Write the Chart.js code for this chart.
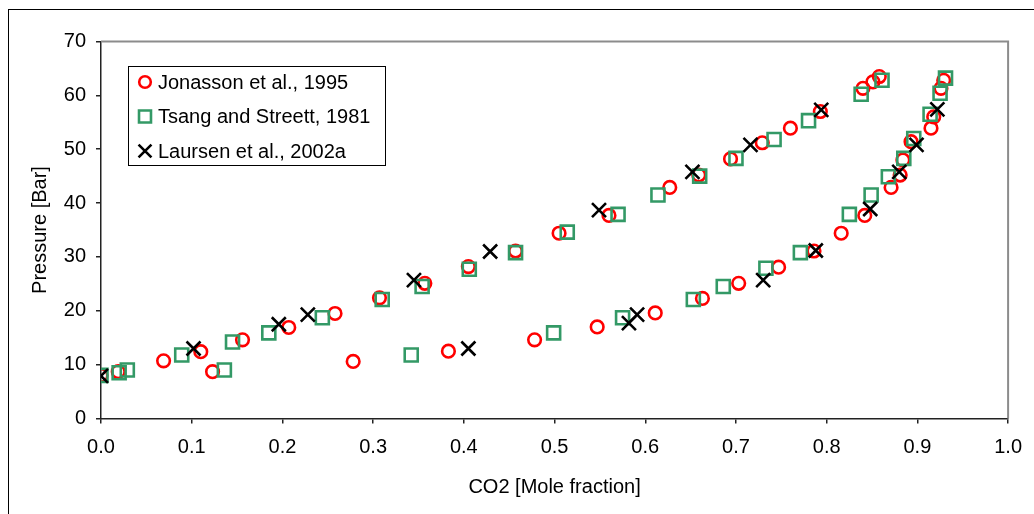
<!DOCTYPE html>
<html>
<head>
<meta charset="utf-8">
<script src="https://cdn.jsdelivr.net/npm/chart.js@4.4.0/dist/chart.umd.min.js"></script>
<style>
    html, body { margin: 0; padding: 0; background: #fff; }
    #wrap { width: 1034px; height: 514px; }
</style>
</head>
<body>
<div id="wrap"><canvas id="chartCO2"></canvas></div>
<script>
// CO2 mole fraction vs pressure, three data sources
const jonassonX = [0.000, 0.019, 0.069, 0.110, 0.123, 0.156, 0.207, 0.258, 0.278, 0.307, 0.357, 0.383, 0.405, 0.457,
    0.478, 0.505, 0.547, 0.560, 0.611, 0.627, 0.659, 0.663, 0.694, 0.703, 0.729, 0.747, 0.760, 0.786, 0.793, 0.816,
    0.840, 0.842, 0.851, 0.858, 0.871, 0.881, 0.884, 0.893, 0.915, 0.918, 0.926, 0.929];
const jonassonP = [8.0, 8.7, 10.7, 12.4, 8.7, 14.6, 16.9, 19.5, 10.6, 22.4, 25.1, 12.5, 28.2, 31.1,
    14.6, 34.4, 17.0, 37.7, 19.6, 42.9, 45.2, 22.3, 48.2, 25.1, 51.2, 28.1, 53.9, 31.1, 57.0, 34.4,
    61.3, 37.7, 62.5, 63.5, 42.9, 45.2, 48.0, 51.4, 53.9, 56.0, 61.3, 62.8];

const tsangX = [0.000, 0.020, 0.029, 0.089, 0.136, 0.145, 0.185, 0.244, 0.310, 0.342, 0.354, 0.406, 0.457, 0.499,
    0.514, 0.570, 0.575, 0.614, 0.653, 0.660, 0.686, 0.700, 0.733, 0.742, 0.771, 0.780, 0.825, 0.838, 0.849, 0.861,
    0.868, 0.885, 0.896, 0.914, 0.925, 0.931];
const tsangP = [8.0, 8.5, 9.0, 11.8, 9.0, 14.2, 15.9, 18.7, 22.1, 11.8, 24.5, 27.7, 30.8, 15.9,
    34.6, 37.9, 18.7, 41.5, 22.1, 45.0, 24.5, 48.3, 27.9, 51.8, 30.8, 55.3, 37.9, 60.2, 41.5, 62.8,
    44.9, 48.3, 52.0, 56.5, 60.4, 63.2];

const laursenX = [0.000, 0.102, 0.196, 0.228, 0.345, 0.405, 0.429, 0.549, 0.582, 0.591, 0.652, 0.716, 0.730, 0.788,
    0.794, 0.848, 0.880, 0.899, 0.922];
const laursenP = [7.9, 13.0, 17.5, 19.3, 25.7, 13.0, 31.0, 38.7, 17.7, 19.3, 45.8, 50.8, 25.7, 31.2,
    57.3, 38.9, 45.8, 50.8, 57.4];

const COLORS = {
    red: '#ff0000',
    green: '#339966',
    black: '#000000'
};

function toPoints(xs, ys) {
    return xs.map((x, i) => ({x: x, y: ys[i]}));
}

Chart.defaults.font.family = '"Liberation Sans", Arial, sans-serif';
Chart.defaults.font.size = 20;
Chart.defaults.color = '#000';

// outer frame, plot-area box and the boxed legend inside the plot
const framePlugin = {
    id: 'frame',
    beforeDraw(chart) {
        const ctx = chart.ctx;
        ctx.save();
        ctx.fillStyle = '#fff';
        ctx.fillRect(0, 0, chart.width, chart.height);
        ctx.strokeStyle = '#000';
        ctx.lineWidth = 1;
        ctx.strokeRect(8.5, 9.5, chart.width + 20, chart.height + 20);
        ctx.restore();
    },
    beforeDatasetsDraw(chart) {
        const {ctx, chartArea: a} = chart;
        ctx.save();
        ctx.strokeStyle = '#8c8c8c';
        ctx.lineWidth = 2;
        ctx.beginPath();
        ctx.moveTo(a.left, a.top);
        ctx.lineTo(a.right, a.top);
        ctx.lineTo(a.right, a.bottom);
        ctx.stroke();
        ctx.restore();
    },
    afterDraw(chart) {
        const ctx = chart.ctx;
        const box = {x: 128.5, y: 66.5, w: 257, h: 99};
        ctx.save();
        ctx.fillStyle = '#fff';
        ctx.fillRect(box.x, box.y, box.w, box.h);
        ctx.strokeStyle = '#000';
        ctx.lineWidth = 1;
        ctx.strokeRect(box.x, box.y, box.w, box.h);
        ctx.font = '20px "Liberation Sans", Arial, sans-serif';
        ctx.textBaseline = 'middle';
        chart.data.datasets.forEach((ds, i) => {
            const y = 82 + i * 34.5;
            ctx.strokeStyle = ds.borderColor;
            ctx.fillStyle = 'rgba(0,0,0,0)';
            ctx.lineWidth = ds.borderWidth;
            Chart.helpers.drawPoint(ctx, {
                pointStyle: ds.pointStyle,
                radius: ds.pointRadius * 0.92,
                rotation: 0,
                borderWidth: ds.borderWidth
            }, 145, y);
            ctx.fillStyle = '#000';
            ctx.fillText(ds.label, 158, y + 1);
        });
        ctx.restore();
    }
};

const data = {
    datasets: [
        {
            label: 'Jonasson et al., 1995',
            data: toPoints(jonassonX, jonassonP),
            pointStyle: 'circle',
            pointRadius: 6.3,
            borderWidth: 2.6,
            borderColor: COLORS.red,
            backgroundColor: 'rgba(0,0,0,0)',
            order: 3
        }, {
            label: 'Tsang and Streett, 1981',
            data: toPoints(tsangX, tsangP),
            pointStyle: 'rect',
            pointRadius: 9.2,
            borderWidth: 2.6,
            borderColor: COLORS.green,
            backgroundColor: 'rgba(0,0,0,0)',
            order: 2
        }, {
            label: 'Laursen et al., 2002a',
            data: toPoints(laursenX, laursenP),
            pointStyle: 'crossRot',
            pointRadius: 9.9,
            borderWidth: 2.6,
            borderColor: COLORS.black,
            backgroundColor: 'rgba(0,0,0,0)',
            order: 1
        }
    ]
};

const config = {
    type: 'scatter',
    data: data,
    options: {
        responsive: true,
        maintainAspectRatio: false,
        animation: false,
        events: [],
        layout: {
            padding: {left: 0, top: 41.5, right: 23, bottom: 0}
        },
        plugins: {
            legend: {display: false},
            tooltip: {enabled: false}
        },
        scales: {
            x: {
                type: 'linear',
                min: 0,
                max: 1,
                afterFit: (scale) => { scale.height = 95.5; },
                ticks: {
                    stepSize: 0.1,
                    padding: 12,
                    maxRotation: 0,
                    callback: (v) => v.toFixed(1)
                },
                grid: {
                    drawOnChartArea: false,
                    drawTicks: true,
                    tickLength: 5,
                    color: '#222',
                    lineWidth: 1.5
                },
                border: {display: true, color: '#222', width: 1.5},
                title: {
                    display: true,
                    text: 'CO2 [Mole fraction]',
                    padding: {top: 0, bottom: 15}
                }
            },
            y: {
                type: 'linear',
                min: 0,
                max: 70,
                afterFit: (scale) => { scale.width = 101; },
                ticks: {
                    stepSize: 10,
                    padding: 10
                },
                grid: {
                    drawOnChartArea: false,
                    drawTicks: true,
                    tickLength: 5,
                    color: '#222',
                    lineWidth: 1.5
                },
                border: {display: true, color: '#222', width: 1.5},
                title: {
                    display: true,
                    text: 'Pressure [Bar]',
                    padding: {top: 28, bottom: 0}
                }
            }
        }
    },
    plugins: [framePlugin]
};

let ctx = document.getElementById('chartCO2').getContext('2d');
new Chart(ctx, config);
</script>
</body>
</html>
